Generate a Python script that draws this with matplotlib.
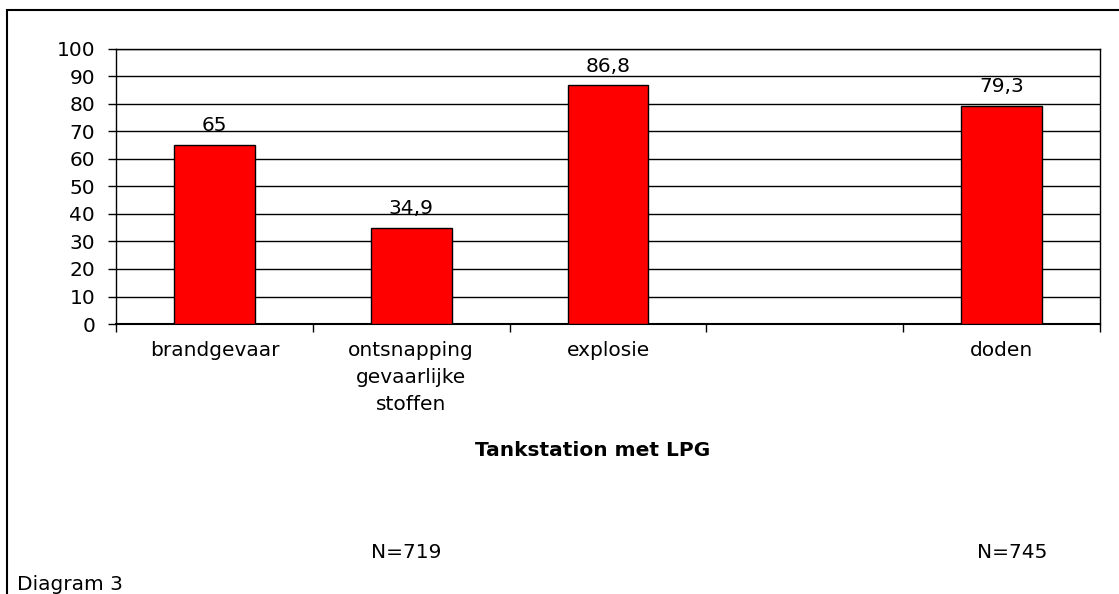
import matplotlib.pyplot as plt
from matplotlib.patches import Rectangle

categories = ["brandgevaar", "ontsnapping\ngevaarlijke\nstoffen", "explosie", "", "doden"]
values = [65, 34.9, 86.8, None, 79.3]
n_labels = ["N=719", "N=745"]

plt.rcParams['font.family'] = ['DejaVu Sans']
fs = 14.5

fig = plt.figure(figsize=(11.19, 5.94), dpi=100)
W, H = 1119, 594
ax = fig.add_axes([116 / W, 1 - 324 / H, (1100 - 116) / W, (324 - 49) / H])

xs = [i for i, v in enumerate(values) if v is not None]
vs = [v for v in values if v is not None]
ax.bar(xs, vs, width=0.41, color="#ff0000", edgecolor="black", linewidth=1, zorder=3)
for x, v in zip(xs, vs):
    ax.text(x, v + 5, ("%g" % v).replace(".", ","), ha="center", va="baseline", fontsize=fs)

ax.set_xlim(-0.5, 4.5)
ax.set_ylim(0, 100)
ax.set_yticks(range(0, 101, 10))
ax.yaxis.grid(True, color="black", linewidth=1)
ax.set_axisbelow(True)
ax.set_xticks([i - 0.5 for i in range(6)])
ax.set_xticklabels([])
ax.set_xticks(range(5), minor=True)
ax.set_xticklabels(categories, minor=True, fontsize=fs, linespacing=1.55)
ax.tick_params(axis="x", which="minor", length=0, pad=12)
ax.tick_params(axis="x", which="major", length=6, width=1, direction="out")
ax.tick_params(axis="y", length=6, width=1, labelsize=fs, pad=9)
for sp in ax.spines.values():
    sp.set_linewidth(1)
ax.spines["bottom"].set_linewidth(1.5)

fig.text(593 / W, 1 - 450 / H, "Tankstation met LPG", ha="center", va="center",
         fontsize=fs, fontweight="bold")
fig.text(406 / W, 1 - 553 / H, n_labels[0], ha="center", va="center", fontsize=fs)
fig.text(1012 / W, 1 - 553 / H, n_labels[1], ha="center", va="center", fontsize=fs)
fig.text(17 / W, 1 - 584 / H, "Diagram 3", ha="left", va="center", fontsize=fs)

fig.patches.append(Rectangle((7 / W, -0.05), 1.2, 1 - 10 / H + 0.05, transform=fig.transFigure,
                             fill=False, edgecolor="black", linewidth=1.5))

fig.savefig("out.png", dpi=100)
